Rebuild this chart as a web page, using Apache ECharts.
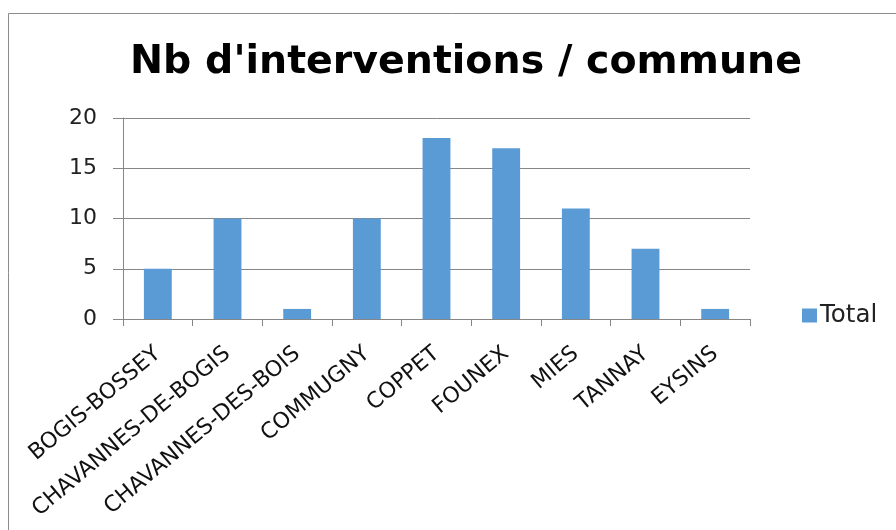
<!DOCTYPE html>
<html><head><meta charset="utf-8">
<script src="https://cdn.jsdelivr.net/npm/echarts@6/dist/echarts.min.js"></script>
<style>html,body{margin:0;padding:0;background:#fff}#c{width:896px;height:530px}</style>
</head><body><div id="c"></div>
<script>
const categories = ['BOGIS-BOSSEY','CHAVANNES-DE-BOGIS','CHAVANNES-DES-BOIS','COMMUGNY','COPPET','FOUNEX','MIES','TANNAY','EYSINS'];
const totals = [5, 10, 1, 10, 18, 17, 11, 7, 1];
const seriesName = 'Total';
const titleText = "Nb d'interventions / commune";

const chart = echarts.init(document.getElementById('c'), null, {renderer:'canvas'});
chart.setOption({
  animation:false,
  backgroundColor:'#fff',
  graphic:[{type:'rect', shape:{x:8.5,y:13.5,width:1000,height:1000}, style:{fill:'none', stroke:'#8c8c8c', lineWidth:1}, silent:true, z:-1}],
  title:{text:titleText, left:461, top:38, textAlign:'center',
    textStyle:{fontFamily:'DejaVu Sans', fontWeight:'bold', fontSize:39.5, color:'#000'}},
  legend:{data:[seriesName], left:797, top:298, itemWidth:15, itemHeight:14, itemGap:8,
    textStyle:{fontFamily:'DejaVu Sans', fontSize:24.5, color:'#222', padding:[0,0,0,-2]}, icon:'rect'},
  grid:{left:123, right:146, top:118, bottom:211, containLabel:false},
  xAxis:{type:'category', data:categories,
    axisLine:{lineStyle:{color:'#868686'}},
    axisTick:{show:true, length:7, alignWithLabel:false, lineStyle:{color:'#868686'}},
    axisLabel:{rotate:40, interval:0, margin:32, fontFamily:'DejaVu Sans', fontSize:22, color:'#111'}},
  yAxis:{type:'value', min:0, max:20, interval:5,
    axisLine:{show:true, lineStyle:{color:'#868686'}},
    axisTick:{show:true, length:10, lineStyle:{color:'#868686'}},
    splitLine:{lineStyle:{color:'#868686'}},
    axisLabel:{margin:26, fontFamily:'DejaVu Sans', fontSize:22, color:'#222'}},
  series:[{name:seriesName, type:'bar', data:totals, barWidth:'40%',
    itemStyle:{color:'#5b9bd5'}}]
});
</script></body></html>
